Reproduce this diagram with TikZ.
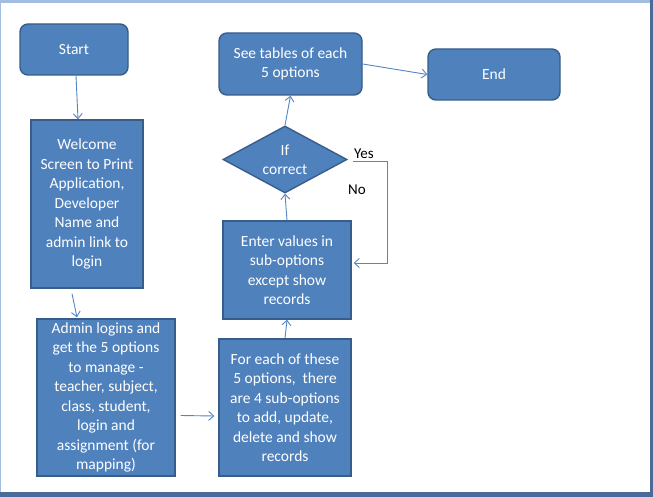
\documentclass[tikz,border=0pt]{standalone}
\usepackage{fontspec}
\setmainfont{Carlito}
\usetikzlibrary{shapes.geometric,arrows.meta}
\definecolor{boxblue}{HTML}{4F81BD}
\definecolor{edgeblue}{HTML}{385D8A}
\definecolor{lineblue}{HTML}{5585C4}
\definecolor{barblue}{HTML}{A3BDE0}
\definecolor{shadeblue}{HTML}{4A6A98}
\begin{document}
\begin{tikzpicture}[x=1pt,y=-1pt,
		flowbox/.style={draw=edgeblue, line width=1.4pt, fill=boxblue, text=white, align=center, inner sep=2pt, font=\fontsize{15.5}{19.5}\selectfont},
		termbox/.style={flowbox, rounded corners=8pt},
		decbox/.style={flowbox, diamond, aspect=1.85, inner sep=0pt},
		flowarrow/.style={draw=lineblue, line width=0.9pt, -{Straight Barb[length=5pt,width=9pt]}},
		answer/.style={font=\fontsize{15}{17}\selectfont, inner sep=0pt}]
			\useasboundingbox (0,0) rectangle (653,497);
			\fill[white] (0,0) rectangle (653,497);
			\fill[barblue] (0,0) rectangle (653,3);
			\fill[barblue] (0,0) rectangle (1,492);
			\fill[shadeblue] (650,0) rectangle (653,497);
			\fill[shadeblue] (0,492) rectangle (653,497);
			\draw (74,49.5) node[termbox, minimum width=108pt, minimum height=51pt] (start) {Start};
			\draw (87,204) node[flowbox, minimum width=112pt, minimum height=168pt] (welcome) {Welcome\\Screen to Print\\Application,\\Developer\\Name and\\admin link to\\login};
			\draw (106,397.5) node[flowbox, minimum width=138pt, minimum height=157pt, inner sep=0pt] (admin) {Admin logins and\\get the 5 options\\to manage -\\teacher, subject,\\class, student,\\login and\\assignment (for\\mapping)};
			\draw (285,407.5) node[flowbox, minimum width=132pt, minimum height=137pt] (foreach) {For each of these\\5 options,~ there\\are 4 sub-options\\to add, update,\\delete and show\\records};
			\draw (287,270) node[flowbox, minimum width=128pt, minimum height=98pt] (enter) {Enter values in\\sub-options\\except show\\records};
			\draw (285,159.5) node[decbox, minimum width=124pt, minimum height=67pt] (check) {If\\correct};
			\draw (290.5,64) node[termbox, minimum width=143pt, minimum height=62pt] (tables) {See tables of each\\5 options};
			\draw (494,74.5) node[termbox, minimum width=132pt, minimum height=51pt] (end) {End};
			% main flow
			\draw[flowarrow] ([shift={(2,0)}]start.south) -- ([shift={(-9,0)}]welcome.north);
			\draw[flowarrow] ([shift={(-15,5)}]welcome.south) -- ([shift={(-29,-1)}]admin.north);
			\draw[flowarrow] ([shift={(5,18)}]admin.east) -- ([shift={(-4,8.5)}]foreach.west);
			\draw[flowarrow] (foreach.north) -- (enter.south);
			\draw[flowarrow] (enter.north) -- (check.south);
			\draw[flowarrow] (check.north) -- (tables.south);
			\draw[flowarrow] (tables.east) -- (end.west);
			% loop back
			\coordinate (turn) at (387,161);
			\draw[flowarrow] ([shift={(5,1.5)}]check.east) -- (turn) |- ([shift={(2,-7)}]enter.east);
			\draw (364,154) node[answer] (yes) {Yes};
			\draw (357,190) node[answer] (no) {No};
		\end{tikzpicture}
\end{document}
